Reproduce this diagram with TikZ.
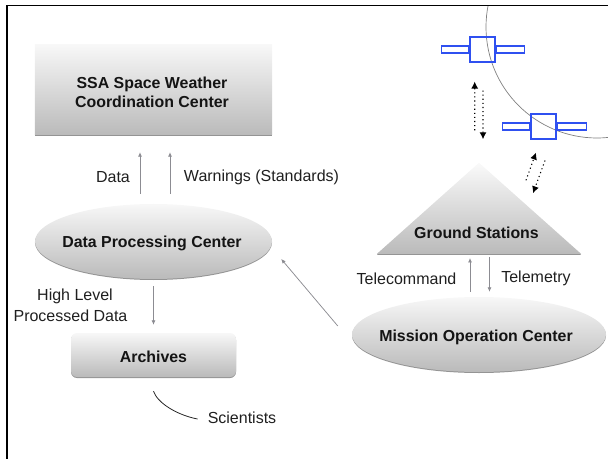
\documentclass[tikz,border=0pt]{standalone}
\usepackage{fontspec}
\setmainfont{Liberation Sans}
\usetikzlibrary{shapes.geometric,arrows.meta}
\definecolor{satblue}{HTML}{2F50F0}
\definecolor{arrgray}{HTML}{8C8C92}
\tikzset{
  x=1bp,y=-1bp,
  lbl/.style={inner sep=0pt,align=center,font=\fontsize{16bp}{19bp}\selectfont,text=black!88},
  blbl/.style={inner sep=0pt,align=center,font=\fontsize{15.9bp}{19bp}\selectfont\bfseries,text=black!92},
  grad/.style={draw=none,inner sep=0pt,top color=#1,bottom color=black!27,
    preaction={fill=black!42,transform canvas={yshift=-1bp}}},
  grad/.default=black!3,
  arr/.style={draw=arrgray,line width=0.75bp,-{Latex[length=4.5bp,width=4bp]}},
  dotarr/.style={draw=black,line width=1.1bp,dash pattern=on 1.1bp off 3bp,-{Latex[length=7bp,width=7bp,fill=black]}},
  panel/.style={draw=satblue,line width=1.1bp,inner sep=0pt,minimum height=7bp},
  satbody/.style={draw=satblue,line width=1.1bp,inner sep=0pt,minimum size=25bp},
}
\begin{document}
\begin{tikzpicture}
\useasboundingbox (0,0) rectangle (608,459);
\begin{scope}
\clip (7,5.5) rectangle (608,459);
\draw[black!50,line width=0.7bp] (597,27) circle (111);
\end{scope}
\draw[black,line width=1.1bp] (7,459) -- (7,5.5) -- (608,5.5);
\node[grad,rectangle,minimum width=237bp,minimum height=90bp] (ssa) at (153.5,90) {};
\node[blbl] (ssat) at (152,92) {SSA Space Weather\\Coordination Center};
\node[grad,ellipse,minimum width=237bp,minimum height=75bp] (dpc) at (153.5,241.5) {};
\node[blbl] (dpct) at (152,243.5) {Data Processing Center};
\node[grad,rectangle,rounded corners=6bp,minimum width=165bp,minimum height=44bp] (arch) at (153.5,355) {};
\node[blbl] (archt) at (153.5,356.5) {Archives};
\node[grad,ellipse,minimum width=254bp,minimum height=75bp] (moc) at (479,334.5) {};
\node[blbl] (moct) at (476,337.5) {Mission Operation Center};
\node[grad=black!2,isosceles triangle,isosceles triangle stretches,shape border rotate=90,
  minimum width=204bp,minimum height=91bp,anchor=lower side] (gs) at (479,254) {};
\node[blbl] (gst) at (476.5,232.5) {Ground Stations};
% satellites
\node[satbody] (s1) at (482.5,49.5) {};
\node[panel,minimum width=27bp,anchor=east] (s1l) at (s1.west) {};
\node[panel,minimum width=28bp,anchor=west] (s1r) at (s1.east) {};
\node[satbody] (s2) at (543.5,126.5) {};
\node[panel,minimum width=27bp,anchor=east] (s2l) at (s2.west) {};
\node[panel,minimum width=29bp,anchor=west] (s2r) at (s2.east) {};
% arrows
\draw[arr] ([xshift=-13.5bp,yshift=10bp]dpc.north) -- ([xshift=-13.5bp,yshift=-17bp]ssa.south);
\draw[arr] ([xshift=16.5bp,yshift=10bp]dpc.north) -- ([xshift=16.5bp,yshift=-17bp]ssa.south);
\draw[arr] ([yshift=-7bp]dpc.south) -- ([yshift=8bp]arch.north);
\draw[arr] ([xshift=-9bp,yshift=5bp]moc.north) -- ([xshift=-9bp,yshift=-4bp]gs.lower side);
\draw[arr] ([xshift=10.5bp,yshift=-3bp]gs.lower side) -- ([xshift=10.5bp,yshift=5bp]moc.north);
\draw[arr] ([xshift=-14bp,yshift=8.5bp]moc.west) -- ([xshift=9bp,yshift=-17.5bp]dpc.east);
\node[lbl] (dl) at (113,177.5) {Data};
\node[lbl] (wl) at (261.5,177.5) {Warnings (Standards)};
\node[lbl] (hl) at (75,296.5) {High Level};
\node[lbl] (pl) at (70.5,315.5) {Processed Data};
\node[lbl] (sci) at (242,418) {Scientists};
\node[lbl] (tc) at (406.5,278.5) {Telecommand};
\node[lbl] (tm) at (536,278.5) {Telemetry};
\draw[black!85,line width=0.8bp] ([yshift=-14bp]arch.south) .. controls ([xshift=4bp,yshift=-26bp]arch.south) and ([xshift=24bp,yshift=-38bp]arch.south) .. ([xshift=-10bp,yshift=-1bp]sci.west);
% dotted links
\draw[dotarr] ([xshift=-4.3bp,yshift=32bp]gs.apex) -- ([xshift=-7.8bp,yshift=-19bp]s1.south);
\draw[dotarr] ([xshift=0.5bp,yshift=-28bp]s1.south) -- ([xshift=4bp,yshift=23bp]gs.apex);
\draw[dotarr] ([xshift=47bp,yshift=-18bp]gs.apex) -- ([xshift=-7.5bp,yshift=-13bp]s2.south);
\draw[dotarr] ([xshift=1.5bp,yshift=-21bp]s2.south) -- ([xshift=54bp,yshift=-31bp]gs.apex);
\end{tikzpicture}
\end{document}
